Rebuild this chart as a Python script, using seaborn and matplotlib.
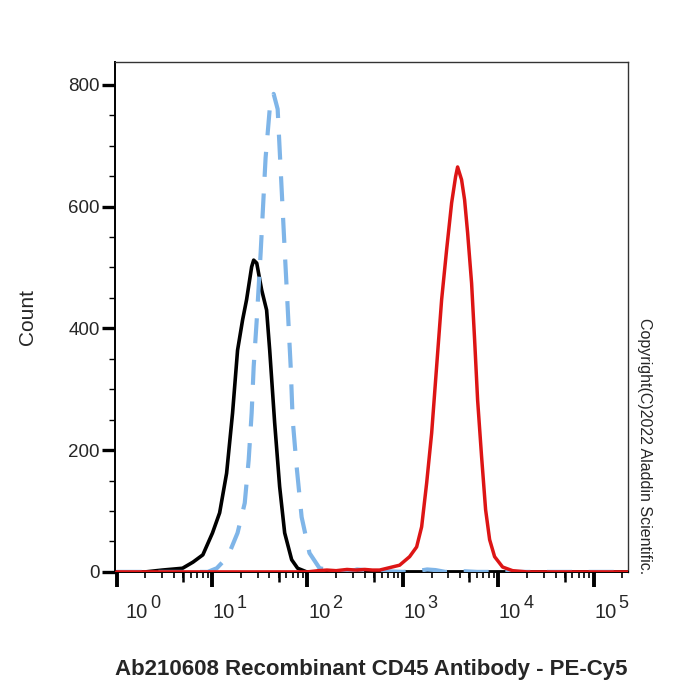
import numpy as np
import pandas as pd
import matplotlib
matplotlib.use("Agg")
import matplotlib.pyplot as plt
from matplotlib.ticker import FixedLocator, NullFormatter
import seaborn as sns

# ---- data (fluorescence intensity, count) ----
black_x = [1.0, 2.0, 3.0, 4.9, 6.3, 8.0, 10.1, 12.0, 14.2, 16.4, 18.5, 20.9, 23.0, 26.0,
           27.3, 29.4, 33.1, 37.3, 40.2, 45.3, 51.1, 57.7, 68.3, 78.9, 98.0, 1000.0, 2000.0, 230000.0]
black_y = [0, 0, 3, 6, 16, 28, 64, 97, 162, 261, 364, 414, 447, 501,
           512, 507, 463, 430, 364, 245, 140, 64, 20, 6, 0, 0, 0, 0]

blue_x = [1.0, 9.0, 11.2, 14.6, 18.5, 22.0, 24.2, 26.0, 27.3, 29.4, 32.3, 36.4, 40.2, 44.2,
          48.7, 52.4, 57.7, 62.0, 66.7, 70.0, 77.1, 86.9, 105.0, 134.0, 200.0, 300.0, 330.0,
          400.0, 500.0, 560.0, 700.0, 1000.0, 1500.0, 1800.0, 2200.0, 2800.0, 4500.0, 6000.0,
          230000.0]
blue_y = [0, 0, 6, 25, 64, 113, 184, 261, 337, 414, 524, 680, 760, 785,
          760, 660, 529, 435, 337, 250, 172, 90, 31, 6, 1, 2, 4, 3, 1, 2, 1, 0, 2, 4, 3, 0, 1, 0,
          0]

red_x = [1.0, 100.0, 130.0, 160.0, 200.0, 260.0, 320.0, 400.0, 480.0, 571.0, 925.0, 1178.0,
         1396.0, 1575.0, 1778.0, 2006.0, 2261.0, 2552.0, 2879.0, 3249.0, 3575.0, 3753.0, 4131.0,
         4443.0, 4779.0, 5262.0, 5660.0, 6085.0, 6698.0, 7380.0, 8130.0, 9170.0, 11120.0,
         14160.0, 20000.0, 230000.0]
red_y = [0, 0, 2, 3, 2, 4, 3, 4, 3, 3, 11, 25,
         41, 74, 146, 228, 337, 447, 529, 606, 649, 665, 644,
         611, 557, 474, 381, 282, 189, 102, 53, 25, 8,
         2, 0, 0]

y_ticks = [0, 200, 400, 600, 800]
x_decades = [1, 10, 100, 1000, 10000, 100000]
x_exponents = ["0", "1", "2", "3", "4", "5"]

sns.set_style("white")
plt.rcParams["font.family"] = ["Liberation Sans", "DejaVu Sans"]

fig = plt.figure(figsize=(7, 7), dpi=100)
ax = fig.add_axes([0.164, 0.183, 0.733, 0.729])

df_black = pd.DataFrame({"x": black_x, "y": black_y})
df_blue = pd.DataFrame({"x": blue_x, "y": blue_y})
df_red = pd.DataFrame({"x": red_x, "y": red_y})

sns.lineplot(data=df_black, x="x", y="y", ax=ax, color="black", lw=2.6,
             estimator=None, sort=False, zorder=3)
sns.lineplot(data=df_blue, x="x", y="y", ax=ax, color="#7fb5e8", lw=3.0,
             estimator=None, sort=False, zorder=4)
ax.lines[-1].set_dashes([6, 4])
sns.lineplot(data=df_red, x="x", y="y", ax=ax, color="#dd1515", lw=2.5,
             estimator=None, sort=False, zorder=5)

ax.set_xscale("log")
ax.set_xlim(10 ** -0.02, 10 ** 5.36)
ax.set_ylim(0, 838)

# spines
for s in ["left", "bottom"]:
    ax.spines[s].set_color("black")
    ax.spines[s].set_linewidth(1.4)
for s in ["top", "right"]:
    ax.spines[s].set_color("#333333")
    ax.spines[s].set_linewidth(1.0)

# y ticks
ax.yaxis.set_major_locator(FixedLocator(y_ticks))
ax.yaxis.set_minor_locator(FixedLocator(list(range(50, 800, 50))))
ax.tick_params(axis="y", which="major", direction="out", length=9.5, width=2.4,
               labelsize=13.5, pad=1.5, color="black", left=True)
ax.tick_params(axis="y", which="minor", direction="out", length=4.5, width=1.0,
               color="black", left=True)

# x ticks (labels drawn as "10" + raised exponent)
ax.xaxis.set_major_locator(FixedLocator(x_decades))
minor = [m * d for d in x_decades[:-1] for m in range(2, 10)] + [2 * x_decades[-1]]
ax.xaxis.set_minor_locator(FixedLocator(minor))
ax.xaxis.set_minor_formatter(NullFormatter())
ax.set_xticklabels([])
ax.tick_params(axis="x", which="major", direction="out", length=11, width=2.8,
               color="black", bottom=True)
ax.tick_params(axis="x", which="minor", direction="out", length=4.5, width=1.2,
               color="black", bottom=True)

for i, (d, e) in enumerate(zip(x_decades, x_exponents)):
    shift = 6 if i == 0 else 0
    ax.annotate("10", xy=(d, 0), xycoords=("data", "axes fraction"),
                xytext=(0.5 + shift, -22.5), textcoords="offset points",
                fontsize=14.5, ha="left", va="top", annotation_clip=False)
    ax.annotate(e, xy=(d, 0), xycoords=("data", "axes fraction"),
                xytext=(18.0 + shift, -16.5), textcoords="offset points",
                fontsize=13, ha="left", va="top", annotation_clip=False)

# medium ticks at 5 x 10^k
sec = ax.secondary_xaxis("bottom")
sec.set_xticks([5 * d for d in x_decades[:-1]])
sec.set_xticklabels([])
sec.tick_params(axis="x", which="major", direction="out", length=7.5, width=1.8, color="black")
sec.tick_params(axis="x", which="minor", length=0)
sec.spines["bottom"].set_visible(False)

ax.set_xlabel("Ab210608 Recombinant CD45 Antibody - PE-Cy5", fontsize=16,
              fontweight="bold", labelpad=48)
ax.set_ylabel("Count", fontsize=15, labelpad=22)

fig.text(0.921, 0.362, "Copyright(C)2022 Aladdin Scientific.", rotation=-90,
         fontsize=11.5, ha="center", va="center")

fig.savefig("out.png", dpi=100, facecolor="white")
